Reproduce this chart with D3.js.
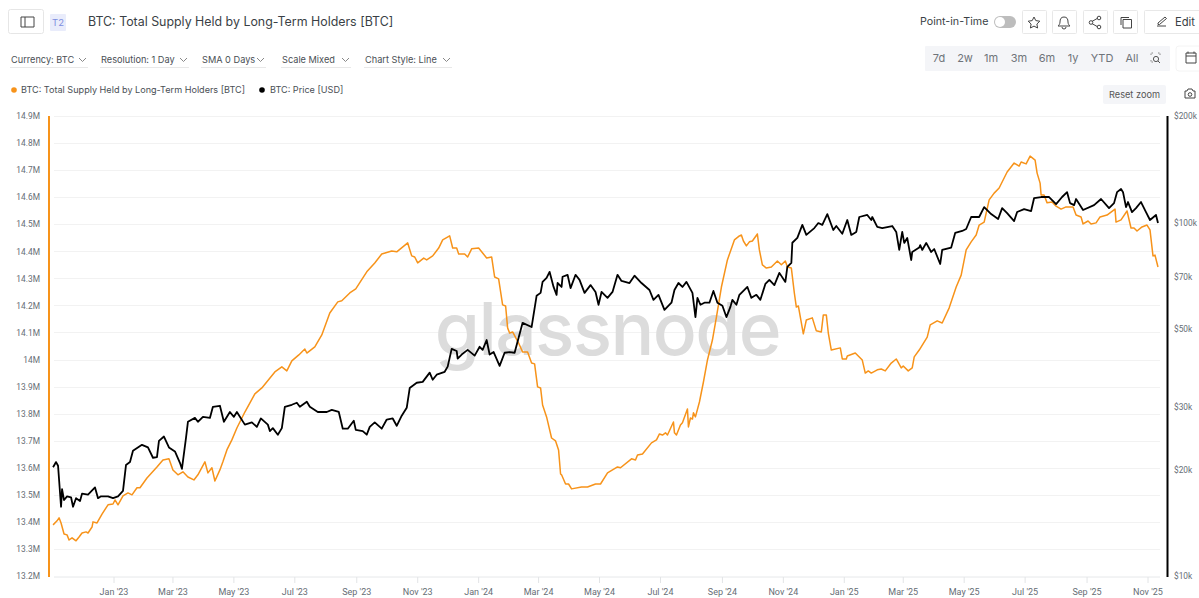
<!DOCTYPE html>
<html><head><meta charset="utf-8">
<script src="https://cdn.jsdelivr.net/npm/d3@7"></script>
<style>html,body{margin:0;padding:0;background:#fff;overflow:hidden}svg{display:block;font-family:Inter,"Noto Sans",sans-serif}</style>
</head><body><svg id="c" width="1199" height="598"></svg>
<script>
const title="BTC: Total Supply Held by Long-Term Holders [BTC]";
const seriesNames=["BTC: Total Supply Held by Long-Term Holders [BTC]","BTC: Price [USD]"];
const dropdowns=["Currency: BTC","Resolution: 1 Day","SMA 0 Days","Scale Mixed","Chart Style: Line"];
const ranges=["7d","2w","1m","3m","6m","1y","YTD","All"];
const supplyTicks=[13.2,13.3,13.4,13.5,13.6,13.7,13.8,13.9,14,14.1,14.2,14.3,14.4,14.5,14.6,14.7,14.8,14.9];
const priceTicks=[10,20,30,50,70,100,200];
// days since 2023-01-01
const supplyDays=[-61,-57,-55,-53,-50,-47,-45,-42,-38,-35,-32,-28,-26,-22,-21,-17,-12,-6,-1,1,4,9,14,18,23,26,33,43,49,55,59,64,69,74,80,84,91,94,98,101,106,109,113,118,123,131,141,148,161,168,173,178,185,191,193,201,208,216,224,228,236,242,253,261,268,278,283,294,298,301,304,310,313,319,325,329,336,339,343,345,351,354,358,365,369,373,378,381,385,389,392,394,396,399,405,409,414,418,421,424,427,429,433,438,442,445,447,448,452,455,458,468,474,482,487,494,504,507,518,522,524,529,538,543,546,549,552,554,560,561,563,567,569,574,575,577,579,580,582,586,590,594,599,603,608,614,621,626,628,630,633,636,639,644,646,649,653,658,664,668,672,674,678,681,683,685,690,693,699,703,708,710,713,715,718,727,729,733,734,742,749,752,755,758,764,768,772,778,783,788,790,795,799,801,806,814,817,824,829,836,843,848,853,858,863,866,871,876,881,886,894,901,906,908,913,917,922,924,927,928,931,934,939,943,948,953,960,963,968,970,975,978,983,987,994,1002,1003,1008,1014,1018,1021,1024,1029,1034,1037,1040,1042,1045];
const supplyValues=[13.389,13.404,13.415,13.396,13.355,13.352,13.333,13.341,13.330,13.344,13.359,13.363,13.359,13.381,13.400,13.396,13.429,13.463,13.466,13.481,13.463,13.496,13.507,13.500,13.526,13.526,13.562,13.603,13.629,13.633,13.592,13.574,13.585,13.566,13.555,13.574,13.622,13.581,13.600,13.551,13.592,13.622,13.666,13.703,13.747,13.806,13.873,13.895,13.954,13.973,13.958,13.995,14.017,14.039,14.024,14.047,14.091,14.172,14.213,14.217,14.246,14.261,14.324,14.357,14.390,14.401,14.398,14.431,14.383,14.379,14.357,14.375,14.368,14.383,14.412,14.442,14.457,14.412,14.412,14.390,14.390,14.379,14.409,14.412,14.394,14.375,14.379,14.305,14.298,14.202,14.198,14.117,14.098,14.102,14.061,14.028,14.028,13.987,13.984,13.899,13.895,13.832,13.788,13.710,13.699,13.666,13.577,13.574,13.540,13.540,13.522,13.529,13.529,13.540,13.540,13.581,13.603,13.600,13.633,13.629,13.647,13.651,13.692,13.703,13.725,13.721,13.729,13.721,13.769,13.729,13.721,13.758,13.766,13.817,13.751,13.784,13.780,13.803,13.788,13.843,13.917,13.998,14.072,14.157,14.268,14.368,14.442,14.457,14.460,14.438,14.420,14.435,14.438,14.464,14.405,14.350,14.338,14.342,14.364,14.350,14.364,14.342,14.338,14.246,14.194,14.198,14.095,14.146,14.154,14.106,14.102,14.165,14.165,14.098,14.035,14.043,14.002,14.002,14.013,14.024,13.998,13.950,13.958,13.950,13.962,13.965,13.958,13.987,14.002,13.969,13.976,13.958,13.969,14.010,14.035,14.083,14.128,14.143,14.135,14.191,14.268,14.312,14.405,14.435,14.460,14.497,14.508,14.590,14.615,14.634,14.693,14.726,14.715,14.730,14.723,14.752,14.737,14.689,14.652,14.608,14.608,14.579,14.582,14.567,14.556,14.564,14.564,14.534,14.527,14.501,14.512,14.501,14.505,14.527,14.534,14.556,14.508,14.516,14.549,14.486,14.486,14.475,14.490,14.497,14.479,14.383,14.386,14.342];
const priceDays=[-61,-58,-56,-53,-52,-50,-47,-43,-41,-38,-34,-32,-26,-19,-16,-13,-6,-1,4,9,12,16,19,28,34,39,43,45,50,55,61,66,68,72,74,81,84,89,96,99,106,110,116,120,123,131,138,143,147,154,156,159,164,168,171,178,183,186,193,196,204,213,218,225,229,234,240,242,249,253,256,261,268,273,279,283,288,293,296,303,309,316,319,323,331,334,338,343,344,348,354,361,366,369,373,376,380,386,391,396,401,409,418,423,427,429,433,436,440,443,444,448,449,454,457,462,466,471,477,482,485,488,494,499,504,508,516,521,528,536,540,545,551,558,561,565,569,573,579,582,584,587,591,596,600,604,609,613,617,619,623,626,634,638,643,647,652,656,661,666,672,674,678,679,684,689,693,701,705,709,714,720,723,729,734,738,743,746,754,758,759,764,769,779,783,786,789,791,794,798,799,806,807,809,813,818,821,827,829,838,842,849,853,858,866,871,878,885,889,894,901,904,911,918,921,928,936,943,949,954,957,961,963,970,981,988,996,1001,1004,1008,1010,1013,1015,1019,1023,1028,1033,1037,1043,1045];
const priceValues=[20.3,21.0,20.5,15.7,17.6,16.4,16.8,16.7,15.7,16.6,16.3,17.1,17.0,17.8,16.6,16.8,16.8,16.6,16.8,17.4,20.6,21.0,22.6,23.5,23.1,21.6,21.7,24.1,24.8,23.1,22.5,20.9,20.1,24.5,27.3,28.0,27.3,28.2,28.0,30.1,30.3,27.3,29.1,28.2,29.1,26.8,27.2,26.4,27.9,26.8,25.7,26.2,25.1,26.2,30.1,30.5,30.9,30.1,31.1,30.1,29.1,29.1,29.5,29.1,26.1,26.1,27.5,25.9,25.7,25.1,26.4,27.2,26.1,27.7,27.9,26.6,28.4,29.9,34.0,35.2,35.4,37.6,35.9,37.1,37.8,39.1,43.9,43.3,41.2,42.3,43.6,42.0,44.5,43.6,46.5,42.3,43.0,39.3,42.8,43.0,42.8,52.0,50.6,62.0,63.2,67.9,69.7,72.5,65.7,62.4,67.4,65.7,70.2,71.1,65.2,71.1,68.8,63.2,66.5,63.6,58.5,63.6,61.2,63.6,71.1,68.3,67.4,70.7,67.4,64.4,60.4,62.4,56.6,59.3,64.4,67.4,65.7,67.9,63.2,54.0,61.2,58.5,59.3,59.3,64.0,59.3,58.1,54.0,57.7,60.4,58.5,62.4,65.7,61.2,62.4,60.4,67.0,68.8,66.5,72.0,67.9,74.9,76.8,87.6,90.4,98.4,92.2,96.4,99.6,98.4,105.6,95.2,97.7,92.9,101.6,92.2,94.0,103.6,105.0,101.6,103.6,97.1,96.4,97.7,94.0,83.6,94.0,87.5,90.4,78.3,82.5,84.9,86.3,83.6,87.5,82.5,84.1,76.3,83.6,84.9,93.4,94.6,95.8,103.6,103.6,110.5,105.6,102.3,109.8,106.3,100.9,107.0,109.1,107.7,117.2,118.0,118.0,112.7,118.0,121.8,113.4,111.9,116.5,108.4,111.9,116.5,109.8,113.4,121.8,124.3,121.8,110.5,114.2,107.0,109.8,114.2,107.0,101.6,105.0,99.6];

const ORANGE="#f7931a",TXT="#666d75",DARK="#3a3f45";
const TICKFONT="Roboto, sans-serif";
const epoch=Date.UTC(2023,0,1);
const toDate=d=>new Date(epoch+d*864e5);
const supply=supplyDays.map((d,i)=>({t:toDate(d),v:supplyValues[i]}));
const price=priceDays.map((d,i)=>({t:toDate(d),v:priceValues[i]}));

const x=d3.scaleUtc().domain([toDate(0),toDate(1035)]).range([114,1148]);
const yL=d3.scaleLinear().domain([13.2,14.9]).range([576,116]);
const yR=d3.scaleLog().domain([10,200]).range([576,116]);
const svg=d3.select("#c");
function txt(s,px,py,size,fill,anchor){return svg.append("text").attr("x",px).attr("y",py+1).attr("font-size",size).attr("fill",fill||DARK).attr("text-anchor",anchor||"start").attr("dominant-baseline","middle").text(s);}
function box(a,b,w,h,fill,stroke,r){return svg.append("rect").attr("x",a).attr("y",b).attr("width",w).attr("height",h).attr("rx",r==null?2:r).attr("fill",fill||"#fff").attr("stroke",stroke||"none");}
function ico(d,sw){return svg.append("path").attr("d",d).attr("fill","none").attr("stroke","#444").attr("stroke-width",sw||1);}

// header
box(8.5,9.5,35,24,"#fff","#e6e6e6",2);
ico("M21 17h13v10h-13zM25 17v10");
box(50,14,16,17,"#e9ecfb","none",1);
txt("T2",58,22,9.5,"#7d8ee0","middle");
txt(title,88,21.5,12.4,DARK);
txt("Point-in-Time",920,21.5,10.7,DARK);
box(994,16,22,12,"#bdbdbd","none",6);
svg.append("circle").attr("cx",1000).attr("cy",22).attr("r",5).attr("fill","#fff");
[[1022,24],[1052,24],[1083,24],[1113,24],[1144,70]].forEach(b=>box(b[0]+.5,10.5,b[1],23,"#fff","#e8e8e8",1));
ico("M1034 17l1.8 3.6 4 .6-2.9 2.8.7 4-3.6-1.9-3.6 1.9.7-4-2.9-2.8 4-.6z");
ico("M1064 17c-3 0-4 2-4 5 0 2-1 3-2 4h12c-1-1-2-2-2-4 0-3-1-5-4-5zM1062 27a2 2 0 0 0 4 0");
ico("M1091 22l7-4M1091 23l7 4");
[[1091,22.5],[1099,18],[1099,27]].forEach(p=>svg.append("circle").attr("cx",p[0]).attr("cy",p[1]).attr("r",1.8).attr("fill","#fff").attr("stroke","#444"));
ico("M1123 19.5h8.5v8.5h-8.5zM1121 25v-7.5h8");
ico("M1157 26h9M1158 23l7-6 1.5 1.5-7 6h-1.5z");
txt("Edit",1175,21.5,11.2,DARK);

// dropdowns
const ddX=[11,101,202,282,365];
const ddEnd=[88,189,266,351,452];
dropdowns.forEach((s,i)=>{
  txt(s,ddX[i],59,9.2,"#4a4f55");
  ico(`M${ddEnd[i]-9} 58l3.5 3.5 3.5-3.5`).attr("stroke","#888");
  svg.append("line").attr("x1",ddX[i]-1).attr("x2",ddEnd[i]).attr("y1",67.5).attr("y2",67.5).attr("stroke","#e8e8e8");
});

// range selector
box(925,46,245,25,"#f4f5f8","none",1);
const rangeX=[939,965,991,1019,1047,1073,1102,1132];
ranges.forEach((s,i)=>txt(s,rangeX[i],58,11,"#6f747a","middle"));
ico("M1151 55v-2h2M1158 53h2v2M1151 60v2h2").attr("stroke","#888").attr("stroke-dasharray","1.5 1");
ico("M1160 63l-2-2").attr("stroke","#555");
svg.append("circle").attr("cx",1156).attr("cy",59).attr("r",2.6).attr("fill","none").attr("stroke","#555");
box(1176,46,30,25,"#fff","#f4f4f4",3);
ico("M1186 53h10v10h-10zM1186 56h10M1188 51.5v2M1194 51.5v2");
box(1103,85,63,19,"#f4f5f8","none",2);
txt("Reset zoom",1134.5,94,9.2,"#555","middle");
ico("M1185 91h2l1-2h4l1 2h2v7h-10z");
svg.append("circle").attr("cx",1190).attr("cy",94.5).attr("r",1.8).attr("fill","none").attr("stroke","#444");

// legend
svg.append("circle").attr("cx",14).attr("cy",90).attr("r",2.8).attr("fill",ORANGE);
txt(seriesNames[0],21,90,9.1,"#4a4f55");
svg.append("circle").attr("cx",262).attr("cy",90).attr("r",2.8).attr("fill","#000");
txt(seriesNames[1],270,90,9.1,"#4a4f55");

// grid + left ticks
svg.append("g").selectAll("line").data(supplyTicks.slice(1)).join("line")
  .attr("x1",54).attr("x2",1160).attr("y1",d=>Math.round(yL(d))+.5).attr("y2",d=>Math.round(yL(d))+.5).attr("stroke","#f2f2f2");
svg.append("line").attr("x1",54).attr("x2",1160).attr("y1",577).attr("y2",577).attr("stroke","#e6e8ea").attr("stroke-width",1);
svg.append("g").selectAll("text").data(supplyTicks).join("text")
  .attr("x",40).attr("y",d=>yL(d)+1).attr("text-anchor","end").attr("dominant-baseline","middle")
  .attr("font-family",TICKFONT).attr("font-size",8.4).attr("fill",TXT).text(d=>d3.format(".1f")(d).replace(".0","")+"M");
svg.append("g").selectAll("text").data(priceTicks).join("text")
  .attr("x",1174).attr("y",d=>yR(d)+1).attr("dominant-baseline","middle")
  .attr("font-family",TICKFONT).attr("font-size",8.3).attr("fill",TXT).text(d=>"$"+d+"k");

// x axis
const xTicks=d3.utcMonth.range(new Date(Date.UTC(2023,0,1)),new Date(Date.UTC(2025,11,1)),2);
const fm=d3.utcFormat("%b '%y");
const gx=svg.append("g");
gx.selectAll("line").data(xTicks).join("line").attr("x1",d=>x(d)).attr("x2",d=>x(d)).attr("y1",577).attr("y2",583).attr("stroke","#e2e4e6");
gx.selectAll("text").data(xTicks).join("text").attr("x",d=>x(d)).attr("y",593).attr("text-anchor","middle").attr("dominant-baseline","middle").attr("font-family",TICKFONT).attr("font-size",9).attr("fill",TXT).text(fm);

// watermark
svg.append("text").attr("x",607.5).attr("y",355).attr("text-anchor","middle").attr("font-size",73).attr("font-weight",500)
  .attr("font-family","Inter, sans-serif").attr("letter-spacing",-1.6).attr("fill","#dcdcdc").text("glassnode");

// axis bars
svg.append("line").attr("x1",49).attr("x2",49).attr("y1",116).attr("y2",577).attr("stroke",ORANGE).attr("stroke-width",2);
svg.append("line").attr("x1",1167.5).attr("x2",1167.5).attr("y1",116).attr("y2",577).attr("stroke","#000").attr("stroke-width",2);

// lines
const lineL=d3.line().x(d=>x(d.t)).y(d=>yL(d.v));
const lineR=d3.line().x(d=>x(d.t)).y(d=>yR(d.v));
svg.append("path").datum(supply).attr("d",lineL).attr("fill","none").attr("stroke",ORANGE).attr("stroke-width",1.5).attr("stroke-linejoin","round");
svg.append("path").datum(price).attr("d",lineR).attr("fill","none").attr("stroke","#000").attr("stroke-width",1.8).attr("stroke-linejoin","round");
</script></body></html>
